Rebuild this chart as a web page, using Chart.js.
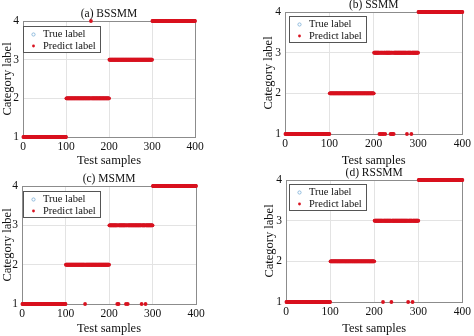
<!DOCTYPE html>
<html>
<head>
<meta charset="utf-8">
<script src="https://cdn.jsdelivr.net/npm/chart.js@4.4.1/dist/chart.umd.min.js"></script>
<style>
  html, body { margin: 0; padding: 0; background: #fff; }
  #wrap { position: relative; width: 474px; height: 336px; overflow: hidden; }
  #wrap canvas { position: absolute; }
</style>
</head>
<body>
<div id="wrap">
  <canvas id="cA" width="237" height="168" style="left:0;top:0"></canvas>
  <canvas id="cB" width="237" height="168" style="left:237px;top:0"></canvas>
  <canvas id="cC" width="237" height="168" style="left:0;top:168px"></canvas>
  <canvas id="cD" width="237" height="168" style="left:237px;top:168px"></canvas>
</div>
<script>
'use strict';

// Class labels in order, each class has the same number of test samples
const classLabels = [1, 2, 3, 4];
const samplesPerClass = 100;

// Tick labels
const xTicks = [0, 100, 200, 300, 400];
const yTicks = [1, 2, 3, 4];

// Misclassified samples per model: [sample index, predicted label]
const errorsBSSMM = [[158, 4]];
const errorsSSMM = [[213, 1], [216, 1], [219, 1], [222, 1], [226, 1], [238, 1], [241, 1], [243, 1], [245, 1], [275, 1], [285, 1]];
const errorsMSMM = [[145, 1], [219, 1], [222, 1], [239, 1], [243, 1], [275, 1], [284, 1]];
const errorsRSSMM = [[220, 1], [239, 1], [277, 1], [287, 1]];

const FONT = '"Liberation Serif", "Times New Roman", serif';
const RED = '#d9121f';
const BLUE = '#86b6da';

// true label of each sample
var trueLabel = [];
classLabels.forEach(function (c) {
   for (var k = 0; k < samplesPerClass; k++) trueLabel.push(c);
});

function truePoints() {
   return trueLabel.map(function (c, i) { return { x: i + 1, y: c }; });
}

function predictPoints(errors) {
   var pred = trueLabel.slice();
   errors.forEach(function (e) { pred[e[0] - 1] = e[1]; });
   return pred.map(function (c, i) { return { x: i + 1, y: c }; });
}

// Box under the data; title and legend on top, like the MATLAB figure
const framePlugin = {
   id: 'frame',
   beforeDatasetsDraw: function (chart) {
      var ctx = chart.ctx, a = chart.chartArea;
      ctx.save();
      ctx.strokeStyle = '#8c8c8c';
      ctx.lineWidth = 1;
      ctx.strokeRect(Math.round(a.left) + 0.5, Math.round(a.top) + 0.5,
                     Math.round(a.right - a.left), Math.round(a.bottom - a.top));
      ctx.restore();
   },
   afterDraw: function (chart) {
      var o = chart.options.plugins.frame;
      var ctx = chart.ctx, a = chart.chartArea;
      ctx.save();
      // title
      ctx.fillStyle = '#111';
      ctx.font = '11.5px ' + FONT;
      ctx.textAlign = 'center';
      ctx.textBaseline = 'middle';
      ctx.fillText(o.title, (a.left + a.right) / 2, o.titleY);
      // legend
      var lx = Math.round(a.left + o.dx) + 0.5, ly = Math.round(a.top + o.dy) + 0.5;
      ctx.fillStyle = '#fff';
      ctx.fillRect(lx, ly, 77, 26);
      ctx.strokeStyle = '#555';
      ctx.lineWidth = 1;
      ctx.strokeRect(lx, ly, 77, 26);
      ctx.beginPath();
      ctx.arc(lx + 10, ly + 8, 1.6, 0, Math.PI * 2);
      ctx.strokeStyle = BLUE;
      ctx.lineWidth = 0.9;
      ctx.stroke();
      ctx.beginPath();
      ctx.arc(lx + 10, ly + 19.5, 1.4, 0, Math.PI * 2);
      ctx.fillStyle = RED;
      ctx.fill();
      ctx.fillStyle = '#111';
      ctx.font = '10.5px ' + FONT;
      ctx.textAlign = 'left';
      ctx.fillText(chart.data.datasets[0].label, lx + 19.5, ly + 8);
      ctx.fillText(chart.data.datasets[1].label, lx + 19.5, ly + 19.5);
      ctx.restore();
   }
};

function drawPanel(id, title, errors, lay) {
   var ctx = document.getElementById(id);
   return new Chart(ctx, {
      type: 'scatter',
      data: {
         datasets: [{
            label: 'True label',
            data: truePoints(),
            pointStyle: 'circle',
            pointRadius: 1.2,
            borderWidth: 0.8,
            borderColor: BLUE,
            backgroundColor: 'rgba(0,0,0,0)',
            clip: false,
            order: 1
         }, {
            label: 'Predict label',
            data: predictPoints(errors),
            pointStyle: 'circle',
            pointRadius: 1.9,
            borderWidth: 0,
            backgroundColor: RED,
            clip: false,
            order: 0
         }]
      },
      options: {
         responsive: false,
         animation: false,
         devicePixelRatio: 1,
         layout: { padding: { left: lay.padL, right: lay.padR, top: lay.padT, bottom: 0 } },
         plugins: {
            legend: { display: false },
            tooltip: { enabled: false },
            frame: { title: title, titleY: lay.titleY, dx: lay.dx, dy: lay.dy }
         },
         scales: {
            x: {
               type: 'linear', min: 0, max: 400,
               afterBuildTicks: function (s) { s.ticks = xTicks.map(function (v) { return { value: v }; }); },
               afterFit: function (s) { s.height = lay.xH; },
               ticks: { color: '#111', font: { family: FONT, size: 11.5 }, padding: 3, maxRotation: 0 },
               grid: { color: '#e3e3e3', drawTicks: false },
               border: { color: '#8c8c8c' },
               title: { display: true, text: 'Test samples', color: '#111', font: { family: FONT, size: 12.5 }, padding: 0 }
            },
            y: {
               type: 'linear', min: 1, max: 4,
               afterBuildTicks: function (s) { s.ticks = yTicks.map(function (v) { return { value: v }; }); },
               afterFit: function (s) { s.width = lay.yW; },
               ticks: { color: '#111', font: { family: FONT, size: 11.5 }, padding: 4 },
               grid: { color: '#e3e3e3', drawTicks: false },
               border: { color: '#8c8c8c' },
               title: { display: true, text: 'Category label', color: '#111', font: { family: FONT, size: 12.5 }, padding: 0 }
            }
         }
      },
      plugins: [framePlugin]
   });
}

drawPanel('cA', '(a) BSSMM', errorsBSSMM, { padL: 0, padR: 42, padT: 21, yW: 23, xH: 31, titleY: 14, dx: 0, dy: 5 });
drawPanel('cB', '(b) SSMM', errorsSSMM, { padL: 24, padR: 10, padT: 12, yW: 24, xH: 34, titleY: 5, dx: 4, dy: 4 });
drawPanel('cC', '(c) MSMM', errorsMSMM, { padL: 0, padR: 41, padT: 18, yW: 22, xH: 32, titleY: 11, dx: 1, dy: 5 });
drawPanel('cD', '(d) RSSMM', errorsRSSMM, { padL: 25, padR: 9, padT: 12, yW: 24, xH: 34, titleY: 5, dx: 3, dy: 4 });
</script>
</body>
</html>
